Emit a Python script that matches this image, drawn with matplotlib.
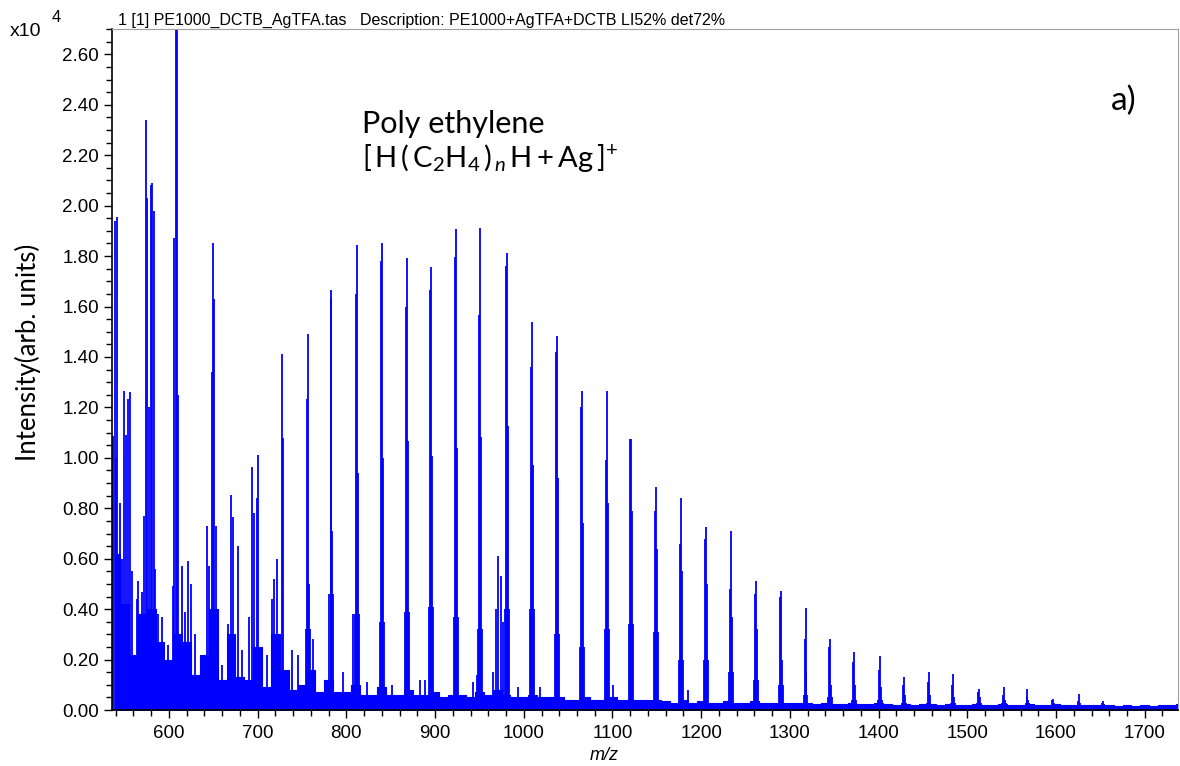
import numpy as np
import matplotlib
matplotlib.use('Agg')
import matplotlib.pyplot as plt
from matplotlib.ticker import MultipleLocator, FormatStrFormatter

# main PE series: m/z, top, side (left), shoulder (right), foot  -- intensities in 1e4
main_mz = [757.0, 783.1, 812.2, 840.0, 868.2, 895.3, 923.5, 950.5, 980.9, 1009.1,
           1037.3, 1065.5, 1093.6, 1120.7, 1148.9, 1177.1, 1205.3, 1233.4, 1261.6, 1289.7,
           1317.6, 1345.0, 1372.3, 1401.3, 1428.4, 1456.5, 1483.9, 1512.9, 1541.4, 1567.8,
           1596.6, 1625.6, 1652.6]
main_top = [1.49, 1.667, 1.845, 1.85, 1.792, 1.757, 1.906, 1.91, 1.813, 1.54,
            1.485, 1.265, 1.265, 1.075, 0.884, 0.841, 0.725, 0.709, 0.513, 0.473,
            0.405, 0.282, 0.229, 0.213, 0.13, 0.15, 0.143, 0.083, 0.09, 0.083,
            0.044, 0.063, 0.037]
main_side = [1.234, 1.63, 1.65, 1.78, 1.60, 1.664, 1.796, 1.567, 1.76, 1.36,
             1.42, 1.20, 0.99, 1.075, 0.79, 0.66, 0.68, 0.48, 0.46, 0.45,
             0.28, 0.25, 0.19, 0.16, 0.10, 0.11, 0.10, 0.07, 0.06, 0.05,
             0.04, 0.035, 0.03]
main_shoulder = [0.50, 0.71, 0.94, 1.0, 1.067, 1.009, 1.04, 1.083, 1.128, 0.97,
                 0.92, 0.74, 0.82, 0.79, 0.64, 0.55, 0.50, 0.37, 0.32, 0.20,
                 0.15, 0.10, 0.10, 0.09, 0.06, 0.06, 0.05, 0.05, 0.04, 0.04,
                 0.03, 0.03, 0.025]
main_foot = [0.32, 0.46, 0.38, 0.35, 0.39, 0.41, 0.37, 0.32, 0.40, 0.40,
             0.30, 0.25, 0.32, 0.34, 0.31, 0.20, 0.20, 0.15, 0.12, 0.10,
             0.06, 0.05, 0.04, 0.04, 0.03, 0.03, 0.03, 0.03, 0.03, 0.03,
             0.02, 0.02, 0.02]

# other peaks (low mass region and small side peaks)
other_mz = [536.9, 539.1, 540.5, 541.7, 544.8, 547.0, 549.3, 551.6, 554.1, 556.0,
            558.0, 563.6, 565.4, 569.2, 572.2, 573.7, 575.5, 577.5, 579.4, 581.2,
            583.1, 584.2, 587.9, 591.8, 599.2, 604.2, 606.0, 607.5, 609.4, 610.5,
            614.3, 618.0, 621.8, 624.8, 629.3, 638.7, 642.5, 645.1, 648.1, 649.9,
            651.3, 652.6, 659.7, 666.8, 669.9, 672.5, 678.1, 681.9, 690.2, 693.9,
            696.1, 698.8, 700.6, 710.1, 715.7, 718.3, 721.4, 727.4, 728.8, 738.3,
            745.4, 762.6, 796.4, 807.7, 822.8, 851.0, 882.9, 888.5, 943.0, 946.8,
            965.5, 968.5, 971.1, 973.8, 976.8, 993.7, 1018.1, 1100.7, 1185.3]
other_h = [1.087, 1.94, 1.00, 1.955, 0.82, 0.60, 1.267, 1.09, 1.234, 1.26,
           0.55, 0.44, 0.51, 0.47, 0.77, 2.34, 2.03, 1.20, 2.08, 2.09,
           1.98, 0.56, 0.38, 0.37, 0.26, 0.49, 1.87, 2.75, 2.75, 1.25,
           0.57, 0.39, 0.59, 0.50, 0.30, 0.17, 0.73, 0.57, 1.34, 1.85,
           1.63, 0.73, 0.18, 0.34, 0.853, 0.765, 0.65, 0.24, 0.37, 0.963,
           0.78, 0.84, 1.01, 0.22, 0.44, 0.52, 0.60, 1.413, 1.08, 0.24,
           0.22, 0.28, 0.15, 0.38, 0.11, 0.10, 0.12, 0.12, 0.11, 0.14,
           0.15, 0.40, 0.61, 0.53, 0.35, 0.09, 0.09, 0.10, 0.08]

# noise floor, every 10 m/z from 540
floor_h = [0.62, 0.42, 0.22, 0.38, 0.40, 0.27, 0.20, 0.30, 0.27, 0.14,
           0.22, 0.40, 0.12, 0.30, 0.13, 0.12, 0.25, 0.09, 0.30, 0.16,
           0.08, 0.10, 0.16, 0.07, 0.12, 0.07, 0.07, 0.10, 0.06, 0.06,
           0.09, 0.06, 0.06, 0.08, 0.06, 0.06, 0.07, 0.05, 0.06, 0.06,
           0.05, 0.07, 0.06, 0.08, 0.06, 0.05, 0.05, 0.06, 0.05, 0.05,
           0.05, 0.04, 0.04, 0.05, 0.04, 0.04, 0.05, 0.04, 0.04, 0.04,
           0.04, 0.04, 0.035, 0.03, 0.04, 0.03, 0.035, 0.03, 0.03, 0.035,
           0.03, 0.03, 0.035, 0.03, 0.03, 0.03, 0.03, 0.03, 0.03, 0.025,
           0.03, 0.025, 0.025, 0.03, 0.025, 0.025, 0.03, 0.025, 0.02, 0.025,
           0.02, 0.025, 0.025, 0.02, 0.025, 0.02, 0.02, 0.025, 0.02, 0.02,
           0.025, 0.02, 0.02, 0.025, 0.02, 0.02, 0.025, 0.02, 0.02, 0.02,
           0.02, 0.02, 0.02, 0.018, 0.02, 0.018, 0.02, 0.018, 0.02, 0.022,
           0.025]
floor_mz = np.arange(540, 540 + 10 * len(floor_h), 10)

blue = '#0000ff'

fig = plt.figure(figsize=(11.8, 7.66), dpi=100)
ax = fig.add_axes([0.0949, 0.073, 0.9034, 0.889])

ax.fill_between(floor_mz, floor_h, step='mid', color=blue, lw=0.8, edgecolor=blue)

mm = np.array(main_mz)
ax.vlines(mm - 2.2, 0, main_foot, colors=blue, lw=1.3)
ax.vlines(mm + 2.0, 0, main_foot, colors=blue, lw=1.3)
ax.vlines(mm + 1.0, 0, main_shoulder, colors=blue, lw=1.3)
ax.vlines(mm - 0.9, 0, main_side, colors=blue, lw=1.3)
ax.vlines(mm, 0, main_top, colors=blue, lw=1.3)
ax.vlines(other_mz, 0, other_h, colors=blue, lw=1.3)

ax.set_xlim(535.8, 1737.5)
ax.set_ylim(0, 2.70)

ax.xaxis.set_major_locator(MultipleLocator(100))
ax.xaxis.set_minor_locator(MultipleLocator(20))
ax.yaxis.set_major_locator(MultipleLocator(0.2))
ax.yaxis.set_minor_locator(MultipleLocator(0.05))
ax.yaxis.set_major_formatter(FormatStrFormatter('%.2f'))
ax.tick_params(which='both', direction='out', labelsize=13.5, width=1)
ax.tick_params(which='major', length=6)
ax.tick_params(which='minor', length=4)
ax.tick_params(axis='x', pad=5)
for lab in ax.get_xticklabels() + ax.get_yticklabels():
    lab.set_fontfamily('Liberation Sans')

ax.spines['top'].set_color('#a0a0a0')
ax.spines['right'].set_color('#a0a0a0')
ax.spines['left'].set_linewidth(1.2)
ax.spines['bottom'].set_linewidth(1.2)

plt.rcParams['mathtext.fontset'] = 'custom'
plt.rcParams['mathtext.rm'] = 'Lato'
plt.rcParams['mathtext.it'] = 'Lato:italic'

fig.text(0.0085, 0.953, 'x10', fontsize=14, family='Liberation Sans')
fig.text(0.044, 0.971, '4', fontsize=12, family='Liberation Sans')
fig.text(0.1, 0.968, '1 [1] PE1000_DCTB_AgTFA.tas   Description: PE1000+AgTFA+DCTB LI52% det72%',
         fontsize=11.5, family='Liberation Sans')
fig.text(0.3068, 0.826, 'Poly ethylene', fontsize=22, family='Lato')
fig.text(0.3068, 0.782,
         r'$[\,\mathrm{H}\,(\,\mathrm{C_2H_4}\,)_{\,n}\,\mathrm{H} + \mathrm{Ag}\,]^{+}$',
         fontsize=21)
fig.text(0.9635, 0.856, 'a)', fontsize=24, family='Lato', ha='right')
fig.text(0.0237, 0.5405, 'Intensity(arb. units)', rotation=90, ha='center', va='center',
         fontsize=18.5, family='Lato')
fig.text(0.512, 0.008, 'm/z', ha='center', fontsize=13, style='italic', family='Liberation Sans')

fig.savefig('out.png', dpi=100)
